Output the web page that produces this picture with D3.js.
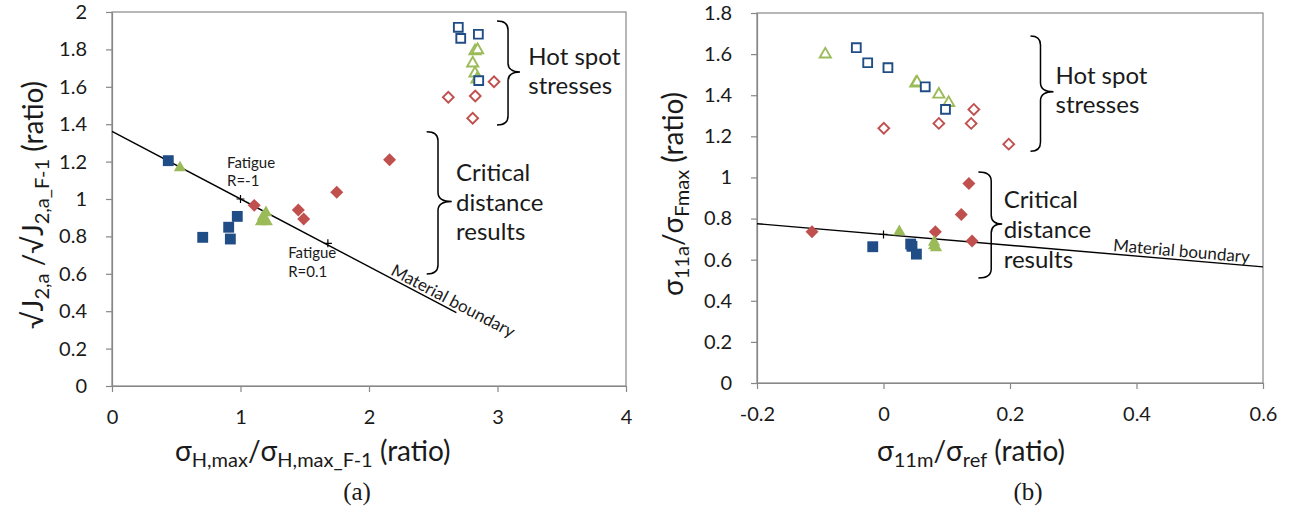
<!DOCTYPE html>
<html><head><meta charset="utf-8">
<script src="https://cdn.jsdelivr.net/npm/d3@7"></script>
<style>
body{margin:0;background:#fff}
svg{display:block}
text{font-family:Lato,"Open Sans",sans-serif;fill:#1a1a1a}
</style>
</head><body>
<svg id="c" width="1298" height="512"></svg>
<script>
// ---------- Chart (a) data ----------
const aXTicks = [0, 1, 2, 3, 4];
const aYTicks = [0, 0.2, 0.4, 0.6, 0.8, 1, 1.2, 1.4, 1.6, 1.8, 2];
const aCritBlue  = [[0.438,1.205],[0.706,0.795],[0.908,0.849],[0.921,0.786],[0.975,0.907]];
const aCritGreen = [[0.529,1.167],[1.16,0.879],[1.204,0.879],[1.198,0.927],[1.175,0.905]];
const aCritRed   = [[1.107,0.966],[1.450,0.941],[1.492,0.893],[1.749,1.036],[2.16,1.21]];
const aHotBlue   = [[2.695,1.918],[2.714,1.859],[2.851,1.881],[2.854,1.633]];
const aHotGreen  = [[2.825,1.791],[2.845,1.797],[2.807,1.726],[2.825,1.672],[2.84,1.64]];
const aHotRed    = [[2.973,1.627],[2.617,1.544],[2.827,1.551],[2.807,1.432]];
const aBoundary  = [[0,1.362],[2.68,0.392]];
const aFatigue   = [[1,1],[1.68,0.763]];

// ---------- Chart (b) data ----------
const bXTicks = [-0.2, 0, 0.2, 0.4, 0.6];
const bYTicks = [0, 0.2, 0.4, 0.6, 0.8, 1, 1.2, 1.4, 1.6, 1.8];
const bHotBlue   = [[-0.043,1.631],[-0.025,1.558],[0.007,1.534],[0.066,1.441],[0.098,1.331]];
const bHotGreen  = [[-0.092,1.599],[0.051,1.458],[0.053,1.463],[0.0875,1.404],[0.103,1.363]];
const bHotRed    = [[0.0005,1.239],[0.0875,1.263],[0.1386,1.263],[0.1428,1.331],[0.198,1.162]];
const bCritRed   = [[-0.113,0.736],[0.082,0.736],[0.123,0.820],[0.135,0.971],[0.140,0.691]];
const bCritBlue  = [[-0.017,0.663],[0.043,0.676],[0.045,0.665],[0.052,0.627]];
const bCritGreen = [[0.025,0.736],[0.080,0.685],[0.080,0.668],[0.083,0.658]];
const bBoundary  = [[-0.2,0.775],[0.6,0.565]];
const bFatigue   = [[0,0.723]];

const BLUE = "#214d86", RED = "#c0504d", GREEN = "#9bbb59", AXIS = "#878787";
const svg = d3.select("#c");

function fmt(d){ return d === 0 ? "0" : (Number.isInteger(d) ? String(d) : String(+d.toFixed(1))); }

function panel(o){
  const x = d3.scaleLinear().domain(o.xd).range(o.xr);
  const y = d3.scaleLinear().domain(o.yd).range(o.yr);
  const g = svg.append("g");
  g.append("rect").attr("x", o.xr[0]).attr("y", o.yr[1])
    .attr("width", o.xr[1]-o.xr[0]).attr("height", o.yr[0]-o.yr[1])
    .attr("fill","none").attr("stroke",AXIS).attr("stroke-width",1.2);
  const ax = g.append("g").attr("transform",`translate(0,${o.yr[0]})`)
    .call(d3.axisBottom(x).tickValues(o.xt).tickFormat(fmt).tickSize(6).tickPadding(18).tickSizeOuter(0));
  const ay = g.append("g").attr("transform",`translate(${o.xr[0]},0)`)
    .call(d3.axisLeft(y).tickValues(o.yt).tickFormat(fmt).tickSize(6).tickPadding(19).tickSizeOuter(0));
  [ax, ay].forEach(a => {
    a.select(".domain").attr("stroke",AXIS).attr("stroke-width",1.2);
    a.selectAll(".tick line").attr("stroke",AXIS).attr("stroke-width",1.2);
    a.selectAll(".tick text").style("font-size","20px").style("font-family","Lato").attr("fill","#1a1a1a");
  });
  g.append("path").datum(o.boundary)
    .attr("d", d3.line().x(d=>x(d[0])).y(d=>y(d[1])))
    .attr("stroke","#000").attr("stroke-width",1.4).attr("fill","none");
  g.selectAll(".fx").data(o.fatigue).enter().append("path")
    .attr("transform", d=>`translate(${x(d[0])},${y(d[1])})`)
    .attr("d","M-4,0H4M0,-4V4").attr("stroke","#000").attr("stroke-width",1.2);
  return {x,y,g};
}

function markers(P, data, shape, color, filled){
  const sizes = {square: filled?118:78, diamond: filled?84:58, triangle: filled?66:54};
  const sym = d3.symbol().type(shape==="triangle"?d3.symbolTriangle:d3.symbolSquare).size(sizes[shape]);
  P.g.selectAll(null).data(data).enter().append("path")
    .attr("d", sym)
    .attr("transform", d=>`translate(${P.x(d[0])},${P.y(d[1])})` + (shape==="diamond"?" rotate(45)":""))
    .attr("fill", filled?color:"#fff")
    .attr("stroke", color)
    .attr("stroke-width", filled?0:1.9);
}

function brace(P, ends, vert, point, y0, ym, y1){
  const xe=P.x(ends), xv=P.x(vert), xp=P.x(point);
  const Y0=P.y(y0), Ym=P.y(ym), Y1=P.y(y1), r=9;
  const d = `M${xe},${Y0} Q${xv},${Y0} ${xv},${Y0+r} L${xv},${Ym-r} Q${xv},${Ym} ${xp},${Ym} `+
            `Q${xv},${Ym} ${xv},${Ym+r} L${xv},${Y1-r} Q${xv},${Y1} ${xe},${Y1}`;
  P.g.append("path").attr("d",d).attr("fill","none").attr("stroke","#000").attr("stroke-width",1.5);
}

function lines(P, xv, lines, ys, size){
  lines.forEach((t,i)=>{
    P.g.append("text").attr("x",P.x(xv)).attr("y",P.y(ys[i])).style("font-size",size+"px").text(t);
  });
}

function alongLine(P, seg, xv, label, size){
  const [a,b] = seg;
  const t = (xv-a[0])/(b[0]-a[0]);
  const yv = a[1] + t*(b[1]-a[1]);
  const px = P.x(xv), py = P.y(yv);
  const ang = Math.atan2(P.y(b[1])-P.y(a[1]), P.x(b[0])-P.x(a[0]))*180/Math.PI;
  P.g.append("text").attr("transform",`translate(${px},${py}) rotate(${ang}) translate(0,-3)`)
    .style("font-size",size+"px").text(label);
}

// ---------- panel (a) ----------
const A = panel({xd:[0,4], xr:[112,626], yd:[0,2], yr:[386,12], xt:aXTicks, yt:aYTicks, boundary:aBoundary, fatigue:aFatigue});
markers(A, aCritBlue, "square", BLUE, true);
markers(A, aCritRed, "diamond", RED, true);
markers(A, aCritGreen, "triangle", GREEN, true);
markers(A, aHotRed, "diamond", RED, false);
markers(A, aHotGreen, "triangle", GREEN, false);
markers(A, aHotBlue, "square", BLUE, false);
brace(A, 2.996, 3.082, 3.175, 1.952, 1.679, 1.396);
brace(A, 2.449, 2.537, 2.644, 1.360, 0.986, 0.599);
lines(A, 3.24, ["Hot spot","stresses"], [1.717,1.561], 24);
lines(A, 2.677, ["Critical","distance","results"], [1.098,0.937,0.781], 24);
lines(A, 0.895, ["Fatigue","R=-1"], [1.168,1.069], 15);
lines(A, 1.371, ["Fatigue","R=0.1"], [0.684,0.583], 15);
alongLine(A, aBoundary, 2.15, "Material boundary", 17);

// ---------- panel (b) ----------
const B = panel({xd:[-0.2,0.6], xr:[757,1263], yd:[0,1.8], yr:[383,13], xt:bXTicks, yt:bYTicks, boundary:bBoundary, fatigue:bFatigue});
markers(B, bCritBlue, "square", BLUE, true);
markers(B, bCritRed, "diamond", RED, true);
markers(B, bCritGreen, "triangle", GREEN, true);
markers(B, bHotRed, "diamond", RED, false);
markers(B, bHotGreen, "triangle", GREEN, false);
markers(B, bHotBlue, "square", BLUE, false);
brace(B, 0.2324, 0.2482, 0.2688, 1.688, 1.417, 1.128);
brace(B, 0.150, 0.1703, 0.1877, 1.026, 0.773, 0.511);
lines(B, 0.272, ["Hot spot","stresses"], [1.454,1.312], 24);
lines(B, 0.190, ["Critical","distance","results"], [0.853,0.705,0.559], 24);
alongLine(B, bBoundary, 0.362, "Material boundary", 17);

// ---------- axis titles ----------
function title(parts, transform, anchor){
  const t = svg.append("text").attr("transform",transform).attr("text-anchor",anchor||"start");
  parts.forEach(p=>{
    const s = t.append("tspan").text(p[0]);
    if(p[1]==="sub") s.style("font-size","20px").attr("dy",6);
    else s.style("font-size","28px").attr("dy", p[2]||0);
  });
  return t;
}
title([["σ"],["H,max","sub"],["/σ","",-6],["H,max_F-1","sub"],[" (ratio)","",-6]], "translate(175,461)");
title([["σ"],["11m","sub"],["/σ","",-6],["ref","sub"],[" (ratio)","",-6]], "translate(877,461)");
title([["√J"],["2,a","sub"],[" /√J","",-6],["2,a_F-1","sub"],[" (ratio)","",-6]], "translate(43,205) rotate(-90)", "middle");
title([["σ"],["11a","sub"],["/σ","",-6],["Fmax","sub"],[" (ratio)","",-6]], "translate(683,194) rotate(-90)", "middle");

svg.append("text").attr("x",357).attr("y",500).attr("text-anchor","middle")
  .style("font-family","'Liberation Serif','Times New Roman',serif").style("font-size","25px").text("(a)");
svg.append("text").attr("x",1028).attr("y",500).attr("text-anchor","middle")
  .style("font-family","'Liberation Serif','Times New Roman',serif").style("font-size","25px").text("(b)");
</script>
</body></html>
